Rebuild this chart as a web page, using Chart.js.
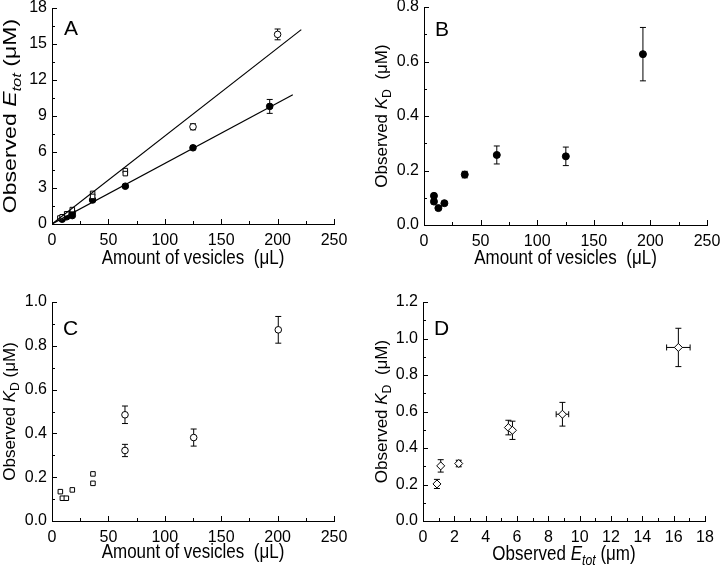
<!DOCTYPE html>
<html>
<head>
<meta charset="utf-8">
<script src="https://cdn.jsdelivr.net/npm/chart.js@4.4.0/dist/chart.umd.min.js"></script>
<style>
  body { margin: 0; background: #fff; width: 720px; height: 569px; position: relative; overflow: hidden; }
  canvas { position: absolute; }
</style>
</head>
<body>
<canvas id="cA" width="360" height="285" style="left:0;top:0"></canvas>
<canvas id="cB" width="360" height="285" style="left:360px;top:0"></canvas>
<canvas id="cC" width="360" height="284" style="left:0;top:285px"></canvas>
<canvas id="cD" width="360" height="284" style="left:360px;top:285px"></canvas>
<script>
// ---- panel A : observed E_tot vs amount of vesicles
var aOpenSqX = [7, 9, 13, 18, 36, 36, 65, 65];
var aOpenSqY = [0.5, 0.6, 0.85, 1.2, 2.55, 2.3, 4.45, 4.2];
var aOpenCircX = [125, 200];
var aOpenCircY = [8.1, 15.8];
var aOpenCircErr = [0.25, 0.45];
var aSolidX = [9, 9, 13, 18, 18, 36, 65, 125, 193];
var aSolidY = [0.4, 0.5, 0.6, 0.7, 0.95, 2.0, 3.15, 6.35, 9.8];
var aSolidErr = [0, 0, 0, 0, 0, 0, 0.1, 0.15, 0.58];
var aFitUpperX = [0, 221];
var aFitUpperY = [0, 16.2];
var aFitLowerX = [0, 213.5];
var aFitLowerY = [0, 10.77];

// ---- panel B : observed K_D (filled)
var bX = [8.8, 8.8, 12.7, 18, 36, 64.3, 125.3, 193.4];
var bY = [0.107, 0.086, 0.062, 0.08, 0.185, 0.257, 0.252, 0.627];
var bErr = [0.008, 0.008, 0.006, 0.007, 0.012, 0.033, 0.034, 0.098];

// ---- panel C : observed K_D (open)
var cSqX = [7.4, 9.2, 12.7, 18, 36.3, 36.3];
var cSqY = [0.134, 0.104, 0.104, 0.142, 0.215, 0.172];
var cCircX = [64.7, 64.7, 125.6, 200.6];
var cCircY = [0.485, 0.322, 0.381, 0.873];
var cCircErr = [0.04, 0.028, 0.039, 0.061];

// ---- panel D : observed K_D vs observed E_tot
var dX = [0.89, 1.13, 2.28, 5.45, 5.71, 8.9, 16.3];
var dY = [0.203, 0.302, 0.315, 0.512, 0.497, 0.585, 0.951];
var dYErr = [0.025, 0.034, 0.018, 0.04, 0.05, 0.065, 0.105];
var dXErr = [0, 0, 0.12, 0, 0, 0.4, 0.75];

var FONT = "'Liberation Sans', Arial, Helvetica, sans-serif";
Chart.defaults.font.family = FONT;
Chart.defaults.font.size = 16;
Chart.defaults.color = "#000";

function pts(xs, ys) {
  return xs.map(function (x, i) { return { x: x, y: ys[i] }; });
}

function onStep(v, step) {
  return Math.abs(v / step - Math.round(v / step)) < 1e-6;
}

// rich text: segments [{t, i (italic), sub}]
function drawRich(ctx, segs, size) {
  var w = 0;
  segs.forEach(function (s) {
    ctx.font = (s.i ? "italic " : "") + (s.sub ? size * 0.72 : size) + "px " + FONT;
    s.w = ctx.measureText(s.t).width;
    w += s.w;
  });
  var x = -w / 2;
  segs.forEach(function (s) {
    ctx.font = (s.i ? "italic " : "") + (s.sub ? size * 0.72 : size) + "px " + FONT;
    ctx.fillText(s.t, x, s.sub ? size * 0.25 : 0);
    x += s.w;
  });
}

var decor = {
  id: "decor",
  beforeDatasetsDraw: function (chart) {
    var ctx = chart.ctx, xs = chart.scales.x, ys = chart.scales.y;
    ctx.save();
    ctx.strokeStyle = "#000";
    ctx.lineWidth = 1;
    chart.data.datasets.forEach(function (ds) {
      ds.data.forEach(function (p, i) {
        var px = xs.getPixelForValue(p.x), py = ys.getPixelForValue(p.y);
        var e = ds.yErr ? ds.yErr[i] : 0;
        if (e) {
          var t = ys.getPixelForValue(p.y + e), b = ys.getPixelForValue(p.y - e);
          ctx.beginPath();
          ctx.moveTo(px, t); ctx.lineTo(px, b);
          ctx.moveTo(px - 3, t); ctx.lineTo(px + 3, t);
          ctx.moveTo(px - 3, b); ctx.lineTo(px + 3, b);
          ctx.stroke();
        }
        var ex = ds.xErr ? ds.xErr[i] : 0;
        if (ex) {
          var l = xs.getPixelForValue(p.x - ex), r = xs.getPixelForValue(p.x + ex);
          ctx.beginPath();
          ctx.moveTo(l, py); ctx.lineTo(r, py);
          ctx.moveTo(l, py - 3); ctx.lineTo(l, py + 3);
          ctx.moveTo(r, py - 3); ctx.lineTo(r, py + 3);
          ctx.stroke();
        }
      });
    });
    ctx.restore();
  },
  afterDraw: function (chart) {
    var o = chart.options.plugins.decor;
    var ctx = chart.ctx, xs = chart.scales.x, ys = chart.scales.y;
    var area = chart.chartArea;
    ctx.save();
    ctx.strokeStyle = "#000";
    ctx.lineWidth = 1;
    // inward tick marks
    ctx.beginPath();
    xs.ticks.forEach(function (t) {
      var px = Math.round(xs.getPixelForValue(t.value)) + 0.5;
      var len = t.label !== "" ? 5 : 3;
      ctx.moveTo(px, area.bottom); ctx.lineTo(px, area.bottom - len);
    });
    ys.ticks.forEach(function (t) {
      var py = Math.round(ys.getPixelForValue(t.value)) + 0.5;
      var len = t.label !== "" ? 5 : 3;
      ctx.moveTo(area.left, py); ctx.lineTo(area.left + len, py);
    });
    ctx.stroke();

    ctx.fillStyle = "#000";
    ctx.textBaseline = "alphabetic";
    ctx.textAlign = "left";
    // x title (slightly tall lettering, as in the figure)
    ctx.save();
    ctx.translate((area.left + area.right) / 2, o.xTitleY);
    ctx.scale(1, 1.15);
    drawRich(ctx, o.xTitle, 17);
    ctx.restore();
    // y title
    ctx.save();
    ctx.translate(o.yTitleX, (area.top + area.bottom) / 2);
    ctx.rotate(-Math.PI / 2);
    ctx.scale(o.yStretch || 1, 1);
    drawRich(ctx, o.yTitle, o.yTitleSize || 17);
    ctx.restore();
    // panel letter
    ctx.font = "21px " + FONT;
    ctx.fillText(o.letter, o.letterX, o.letterY);
    ctx.restore();
  }
};

function makeChart(id, p) {
  var H = document.getElementById(id).height;
  var W = document.getElementById(id).width;
  return new Chart(document.getElementById(id), {
    type: "scatter",
    data: { datasets: p.datasets },
    plugins: [decor],
    options: {
      responsive: false,
      animation: false,
      layout: { padding: { left: 0, top: p.area.top, right: W - p.area.right, bottom: 0 } },
      plugins: {
        legend: { display: false },
        tooltip: { enabled: false },
        decor: p.decor
      },
      scales: {
        x: {
          type: "linear",
          min: p.x.min, max: p.x.max,
          grid: { display: false, drawTicks: false },
          border: { display: true, color: "#000", width: 1 },
          ticks: {
            stepSize: p.x.minor, autoSkip: false, maxRotation: 0, padding: 7,
            callback: function (v) { return onStep(v, p.x.major) ? p.x.fmt(v) : ""; }
          },
          afterFit: function (s) { s.height = H - p.area.bottom; s.paddingLeft = 0; s.paddingRight = 0; }
        },
        y: {
          type: "linear",
          min: p.y.min, max: p.y.max,
          grid: { display: false, drawTicks: false },
          border: { display: true, color: "#000", width: 1 },
          ticks: {
            stepSize: p.y.minor, autoSkip: false, padding: 5,
            callback: function (v) { return onStep(v, p.y.major) ? p.y.fmt(v) : ""; }
          },
          afterFit: function (s) { s.width = p.area.left; s.paddingTop = 0; s.paddingBottom = 0; }
        }
      }
    }
  });
}

function open(style, r, data, err, xerr) {
  return {
    data: data, yErr: err, xErr: xerr,
    pointStyle: style, pointRadius: r, pointHoverRadius: r,
    backgroundColor: "#fff", borderColor: "#000", borderWidth: 1
  };
}
function solid(r, data, err) {
  return {
    data: data, yErr: err,
    pointStyle: "circle", pointRadius: r, pointHoverRadius: r,
    backgroundColor: "#000", borderColor: "#000", borderWidth: 1
  };
}
function fitLine(data) {
  return { data: data, showLine: true, pointRadius: 0, borderColor: "#000", borderWidth: 1.2, fill: false };
}

var intFmt = function (v) { return String(Math.round(v)); };
var dec1 = function (v) { return v.toFixed(1); };
var vesTitle = [{ t: "Amount of vesicles  (\u03bcL)" }];
var kdTitle = [{ t: "Observed " }, { t: "K", i: true }, { t: "D", sub: true }, { t: "  (\u03bcM)" }];

makeChart("cA", {
  area: { left: 52, top: 8, right: 334, bottom: 224 },
  x: { min: 0, max: 250, minor: 25, major: 50, fmt: intFmt },
  y: { min: 0, max: 18, minor: 1.5, major: 3, fmt: intFmt },
  datasets: [
    fitLine(pts(aFitUpperX, aFitUpperY)),
    fitLine(pts(aFitLowerX, aFitLowerY)),
    open("rect", 3.2, pts(aOpenSqX, aOpenSqY)),
    open("circle", 3.3, pts(aOpenCircX, aOpenCircY), aOpenCircErr),
    solid(3.3, pts(aSolidX, aSolidY), aSolidErr)
  ],
  decor: {
    letter: "A", letterX: 64, letterY: 35,
    xTitle: vesTitle, xTitleY: 264,
    yTitle: [{ t: "Observed " }, { t: "E", i: true }, { t: "tot", i: true, sub: true }, { t: " (\u03bcM)" }],
    yTitleX: 16, yTitleSize: 18, yStretch: 1.28
  }
});

makeChart("cB", {
  area: { left: 64, top: 7, right: 347, bottom: 225 },
  x: { min: 0, max: 250, minor: 25, major: 50, fmt: intFmt },
  y: { min: 0, max: 0.8, minor: 0.1, major: 0.2, fmt: dec1 },
  datasets: [solid(3.5, pts(bX, bY), bErr)],
  decor: {
    letter: "B", letterX: 75, letterY: 36,
    xTitle: vesTitle, xTitleY: 264,
    yTitle: kdTitle, yTitleX: 27
  }
});

makeChart("cC", {
  area: { left: 52, top: 17, right: 334, bottom: 236 },
  x: { min: 0, max: 250, minor: 25, major: 50, fmt: intFmt },
  y: { min: 0, max: 1.0, minor: 0.1, major: 0.2, fmt: dec1 },
  datasets: [
    open("rect", 3.2, pts(cSqX, cSqY)),
    open("circle", 3.3, pts(cCircX, cCircY), cCircErr)
  ],
  decor: {
    letter: "C", letterX: 63, letterY: 50,
    xTitle: vesTitle, xTitleY: 273,
    yTitle: [{ t: "Observed " }, { t: "K", i: true }, { t: "D", sub: true }, { t: " (\u03bcM)" }],
    yTitleX: 15
  }
});

makeChart("cD", {
  area: { left: 63, top: 17, right: 345, bottom: 236 },
  x: { min: 0, max: 18, minor: 1, major: 2, fmt: intFmt },
  y: { min: 0, max: 1.2, minor: 0.1, major: 0.2, fmt: dec1 },
  datasets: [open("rectRot", 4, pts(dX, dY), dYErr, dXErr)],
  decor: {
    letter: "D", letterX: 74, letterY: 50,
    xTitle: [{ t: "Observed " }, { t: "E", i: true }, { t: "tot", i: true, sub: true }, { t: " (\u03bcm)" }],
    xTitleY: 275,
    yTitle: kdTitle, yTitleX: 27
  }
});
</script>
</body>
</html>
